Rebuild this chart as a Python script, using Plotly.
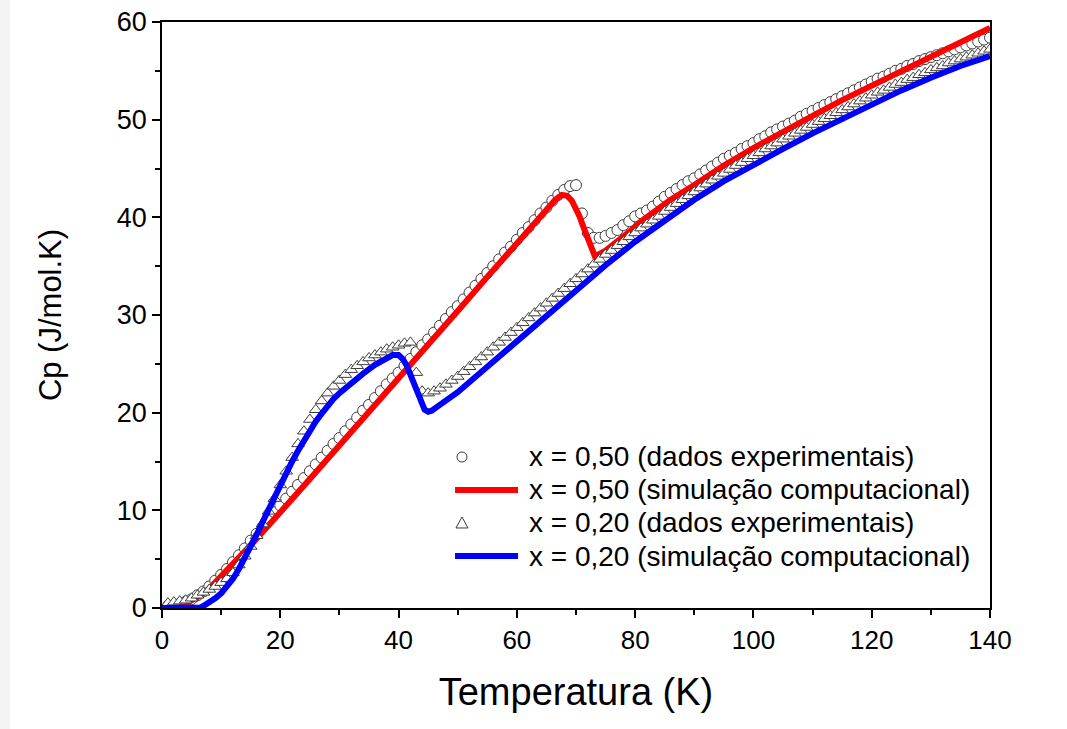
import plotly.graph_objects as go

# ---------------- data ----------------
# x = 0,50 experimental (circles)
circ_T = list(range(1, 141))
circ_Cp = [0.2, 0.3, 0.45, 0.65, 0.9, 1.3, 1.7, 2.2, 2.8, 3.4,
           4.0, 4.7, 5.4, 6.1, 6.9, 7.6, 8.3, 9.0, 9.8, 10.5,
           11.2, 11.9, 12.6, 13.3, 14.0, 14.7, 15.4, 16.1, 16.8, 17.4,
           18.1, 18.8, 19.5, 20.2, 20.8, 21.5, 22.2, 22.9, 23.5, 24.1,
           24.8, 25.5, 26.2, 26.9, 27.5, 28.2, 28.9, 29.6, 30.3, 30.9,
           31.6, 32.3, 33.0, 33.7, 34.3, 35.0, 35.7, 36.4, 37.0, 37.7,
           38.4, 39.0, 39.7, 40.4, 41.0, 41.7, 42.3, 42.8, 43.2, 43.3,
           40.4, 38.4, 37.9, 37.9, 38.1, 38.4, 38.7, 39.2, 39.6, 40.1,
           40.4, 40.7, 41.1, 41.6, 42.1, 42.5, 42.9, 43.3, 43.7, 44.0,
           44.4, 44.8, 45.2, 45.6, 46.0, 46.3, 46.6, 47.0, 47.3, 47.6,
           48.0, 48.3, 48.7, 49.0, 49.3, 49.6, 49.9, 50.3, 50.6, 50.9,
           51.2, 51.5, 51.8, 52.1, 52.4, 52.7, 53.0, 53.3, 53.6, 53.9,
           54.2, 54.4, 54.7, 55.0, 55.2, 55.5, 55.7, 56.0, 56.2, 56.4,
           56.6, 56.8, 57.0, 57.2, 57.4, 57.6, 57.8, 58.0, 58.2, 58.4]

# x = 0,50 simulation (red line)
red_T = [0, 2, 4, 6, 8, 10, 12, 14, 16, 18, 20, 25, 30, 35, 40, 45, 50, 55, 60,
         63, 65, 66.5, 67.6, 68.5, 69.3, 70, 70.6, 71.2, 71.8, 72.5, 73.2,
         75, 77, 79, 81, 83, 86, 90, 95, 100, 105, 110, 115, 120, 125, 130, 135, 140]
red_Cp = [0, 0.1, 0.5, 1.1, 2.0, 3.2, 4.5, 5.8, 7.1, 8.4, 9.8, 13.2, 16.6, 20.0, 23.4, 26.9, 30.4, 33.9, 37.3,
          39.4, 40.8, 41.8, 42.3, 42.2, 41.7, 40.9, 40.1, 39.1, 38.2, 37.0, 36.0,
          36.6, 37.5, 38.5, 39.6, 40.5, 41.8, 43.3, 45.3, 47.1, 48.8, 50.4, 52.0, 53.5, 55.0, 56.4, 57.9, 59.4]

# x = 0,20 experimental (triangles)
tri_T = list(range(1, 141))
tri_Cp = [0.5, 0.6, 0.7, 0.8, 1.0, 1.3, 1.6, 1.9, 2.2, 2.6,
          3.0, 3.6, 4.4, 5.3, 6.3, 7.4, 8.6, 9.9, 11.2, 12.6,
          14.0, 15.4, 16.8, 18.1, 19.3, 20.3, 21.2, 22.0, 22.7, 23.3,
          23.9, 24.4, 24.8, 25.2, 25.6, 25.9, 26.2, 26.5, 26.7, 26.9,
          27.1, 27.2, 24.1, 22.2, 22.0, 22.2, 22.5, 22.9, 23.3, 23.7,
          24.2, 24.7, 25.2, 25.7, 26.2, 26.7, 27.2, 27.7, 28.2, 28.7,
          29.2, 29.7, 30.2, 30.7, 31.2, 31.7, 32.2, 32.7, 33.2, 33.7,
          34.2, 34.7, 35.2, 35.7, 36.2, 36.6, 37.1, 37.5, 38.0, 38.4,
          38.9, 39.3, 39.7, 40.1, 40.6, 41.0, 41.4, 41.8, 42.2, 42.6,
          43.0, 43.4, 43.8, 44.2, 44.5, 44.9, 45.3, 45.6, 46.0, 46.3,
          46.6, 47.0, 47.3, 47.6, 48.0, 48.3, 48.6, 48.9, 49.2, 49.5,
          49.8, 50.1, 50.4, 50.7, 51.0, 51.3, 51.6, 51.9, 52.2, 52.5,
          52.8, 53.0, 53.3, 53.6, 53.8, 54.1, 54.3, 54.6, 54.8, 55.1,
          55.3, 55.5, 55.8, 56.0, 56.2, 56.4, 56.6, 56.8, 57.0, 57.2]

# x = 0,20 simulation (blue line)
blue_T = [0, 2, 4, 6, 6.5, 7, 8, 9, 10, 11, 12, 13, 14, 15, 16, 17, 18, 19, 20,
          21, 22, 23, 24, 25, 26, 27, 28, 29, 30, 32, 34, 36, 38, 39, 40,
          40.7, 41.4, 42, 42.6, 43.2, 43.8, 44.4, 45, 45.6, 46.5, 48, 50,
          55, 60, 65, 70, 75, 80, 85, 90, 95, 100, 105, 110, 115, 120, 125, 130, 135, 140]
blue_Cp = [0, 0, 0, 0, 0.05, 0.2, 0.55, 1.0, 1.5, 2.2, 3.0, 4.0, 5.1, 6.3, 7.5, 8.8, 10.1, 11.4, 12.6,
           13.8, 15.0, 16.1, 17.2, 18.2, 19.1, 19.9, 20.7, 21.4, 22.0, 23.1, 24.0, 24.9, 25.6, 25.9, 25.9,
           25.5, 24.8, 23.9, 22.8, 21.8, 20.9, 20.3, 20.1, 20.2, 20.6, 21.3, 22.1,
           24.7, 27.3, 29.9, 32.6, 35.1, 37.5, 39.7, 41.8, 43.7, 45.4, 47.0, 48.6, 50.1, 51.6, 53.0, 54.3, 55.5, 56.5]

names = ["x = 0,50 (dados experimentais)",
         "x = 0,50 (simulação computacional)",
         "x = 0,20 (dados experimentais)",
         "x = 0,20 (simulação computacional)"]

x_ticks = [0, 20, 40, 60, 80, 100, 120, 140]
y_ticks = [0, 10, 20, 30, 40, 50, 60]

FONT = "Liberation Sans, Arial, sans-serif"
MK_EDGE = "#3c3c3c"
RED = "#ff0000"
BLUE = "#0000ff"

fig = go.Figure()
fig.add_trace(go.Scatter(x=circ_T, y=circ_Cp, mode="markers", name=names[0], showlegend=False,
                         marker=dict(symbol="circle", size=11, color="white",
                                     line=dict(color=MK_EDGE, width=1))))
fig.add_trace(go.Scatter(x=red_T, y=red_Cp, mode="lines", name=names[1], showlegend=False,
                         line=dict(color=RED, width=6)))
fig.add_trace(go.Scatter(x=tri_T, y=tri_Cp, mode="markers", name=names[2], showlegend=False,
                         marker=dict(symbol="triangle-up", size=11, color="white",
                                     line=dict(color=MK_EDGE, width=1))))
fig.add_trace(go.Scatter(x=blue_T, y=blue_Cp, mode="lines", name=names[3], showlegend=False,
                         line=dict(color=BLUE, width=6)))

axis_common = dict(showgrid=False, zeroline=False, showline=True, linecolor="black",
                   linewidth=1.5, mirror=True, ticks="outside", ticklen=8,
                   tickwidth=1.5, tickcolor="black", automargin=False)

fig.update_xaxes(range=[0, 140], tickvals=x_ticks,
                 minor=dict(dtick=10, ticks="outside", ticklen=5, tickwidth=1.5, tickcolor="black"),
                 title=dict(text="Temperatura (K)", font=dict(family=FONT, size=38, color="black"),
                            standoff=24),
                 tickfont=dict(family=FONT, size=26, color="black"), **axis_common)
fig.update_yaxes(range=[0, 60], tickvals=y_ticks,
                 minor=dict(dtick=5, ticks="outside", ticklen=5, tickwidth=1.5, tickcolor="black"),
                 title=dict(text="Cp (J/mol.K)", font=dict(family=FONT, size=31, color="black"),
                            standoff=46),
                 tickfont=dict(family=FONT, size=27, color="black"), **axis_common)

# ---------- legend drawn inside the plot area (paper coordinates) ----------
leg_rows = [0.2577, 0.2014, 0.1451, 0.0887]
leg_sym_x = 0.3623
leg_line_x = (0.3539, 0.4300)
leg_text_x = 0.4408
shapes = []
annotations = []
# light grey strip on the far left of the picture
shapes.append(dict(type="rect", xref="paper", yref="paper", x0=-0.1957, x1=-0.1836,
                   y0=-0.21, y1=1.04, fillcolor="#f4f4f4", line=dict(width=0), layer="below"))
for i, (nm, yr) in enumerate(zip(names, leg_rows)):
    if i == 0:
        shapes.append(dict(type="circle", xref="paper", yref="paper",
                           xsizemode="pixel", ysizemode="pixel", xanchor=leg_sym_x, yanchor=yr,
                           x0=-5, x1=5, y0=-5, y1=5, fillcolor="white",
                           line=dict(color=MK_EDGE, width=1)))
    elif i == 2:
        shapes.append(dict(type="path", xref="paper", yref="paper",
                           xsizemode="pixel", ysizemode="pixel", xanchor=leg_sym_x, yanchor=yr,
                           path="M -6,-5 L 6,-5 L 0,6 Z", fillcolor="white",
                           line=dict(color=MK_EDGE, width=1)))
    else:
        shapes.append(dict(type="line", xref="paper", yref="paper",
                           x0=leg_line_x[0], x1=leg_line_x[1], y0=yr, y1=yr,
                           line=dict(color=RED if i == 1 else BLUE, width=6)))
    annotations.append(dict(text=nm, xref="paper", yref="paper", x=leg_text_x, y=yr,
                            xanchor="left", yanchor="middle", showarrow=False,
                            font=dict(family=FONT, size=28, color="black")))

fig.update_layout(
    width=1067, height=729,
    margin=dict(l=162, r=77, t=22, b=121),
    paper_bgcolor="white", plot_bgcolor="white",
    font=dict(family=FONT, color="black"),
    showlegend=False,
    shapes=shapes,
    annotations=annotations,
)

fig.write_html("out.html")
